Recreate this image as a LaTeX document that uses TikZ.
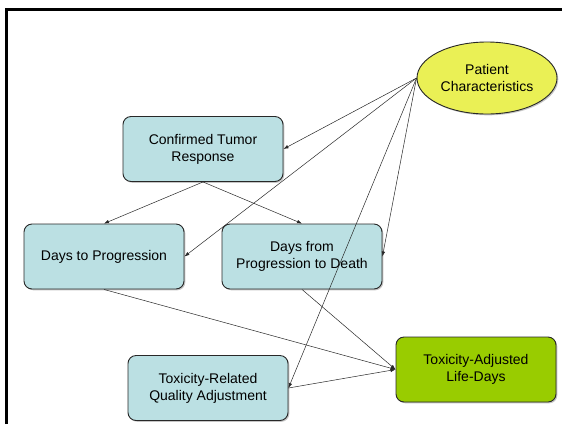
\documentclass[tikz,border=0pt]{standalone}
\usepackage{fontspec}
\setmainfont{Liberation Sans}
\usetikzlibrary{shapes.geometric,arrows.meta,shadows}

\definecolor{boxfill}{RGB}{187,224,227}
\definecolor{goalfill}{RGB}{153,204,0}
\definecolor{ellfill}{RGB}{234,240,85}
\definecolor{edgecol}{RGB}{40,40,40}

\tikzset{
  box/.style={draw=edgecol, line width=0.9pt, rounded corners=8pt, fill=boxfill,
    minimum width=160pt, minimum height=65pt, align=center,
    font=\fontsize{14}{16.8}\selectfont,
    drop shadow={shadow xshift=1.3pt, shadow yshift=-1.3pt, opacity=0.45}},
  goal/.style={box, fill=goalfill},
  oval/.style={draw=edgecol, line width=0.9pt, ellipse, fill=ellfill,
    minimum width=140pt, minimum height=72pt, inner sep=0pt, align=center,
    font=\fontsize{14}{16.8}\selectfont,
    drop shadow={shadow xshift=1.3pt, shadow yshift=-1.3pt, opacity=0.45}},
  link/.style={draw=edgecol, line width=0.5pt,
    -{Latex[length=5pt,width=3.6pt]}},
}

\begin{document}
\begin{tikzpicture}[x=1pt, y=-1pt]
  \useasboundingbox (0,0) rectangle (562,424);
  \fill[white] (0,0) rectangle (562,424);

  % frame along the left and top sides
  \draw[line width=3pt, black] (6,424) -- (6,9) -- (562,9);

  % nodes
  \node[oval] (pat) at (487,78) {Patient\\Characteristics};
  \node[box]  (ctr) at (203,149) {Confirmed Tumor\\Response};
  \node[box]  (dtp) at (104,256.5) {Days to Progression};
  \node[box]  (dfp) at (302,256.5) {Days from\\Progression to Death};
  \node[box]  (trq) at (208,388) {Toxicity-Related\\Quality Adjustment};
  \node[goal] (tal) at (476,369.5) {Toxicity-Adjusted\\Life-Days};

  % connectors
  \draw[link] (pat.west) -- (ctr.east);
  \draw[link] (pat.west) -- (dtp.east);
  \draw[link] (pat.west) -- (dfp.east);
  \draw[link] (pat.west) -- (trq.east);
  \draw[link] (ctr.south) -- (dtp.north);
  \draw[link] (ctr.south) -- (dfp.north);
  \draw[link] (dtp.south) -- (tal.west);
  \draw[link] (dfp.south) -- (tal.west);
  \draw[link] (trq.east) -- (tal.west);
\end{tikzpicture}
\end{document}
